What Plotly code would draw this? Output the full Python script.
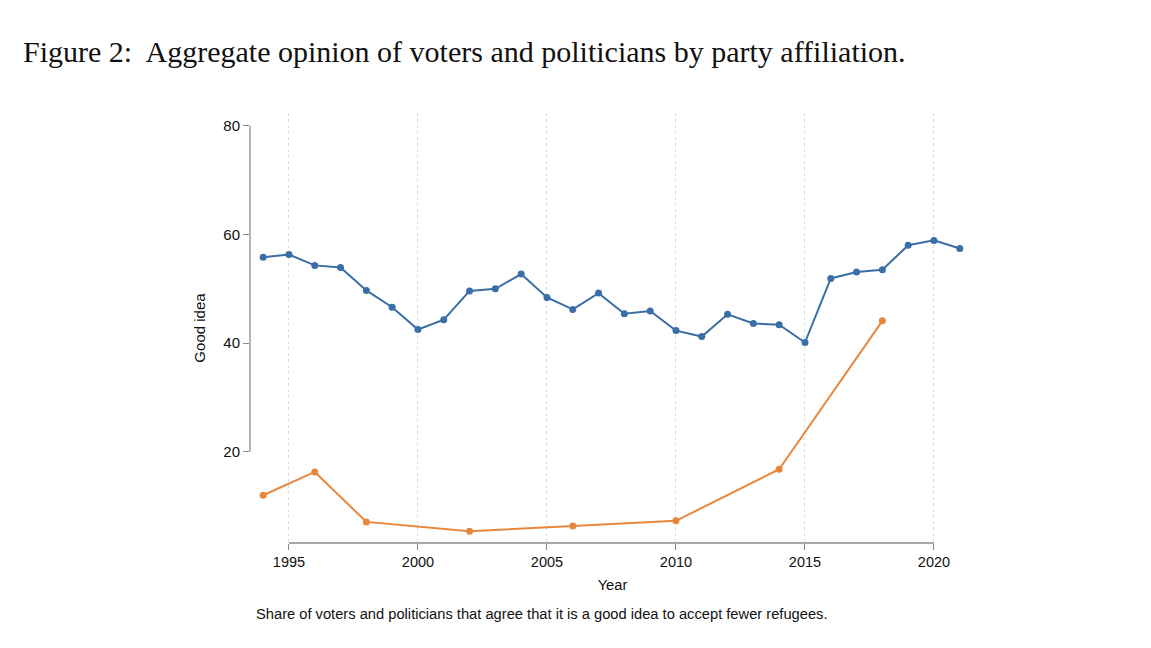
import plotly.graph_objects as go

years_voters = list(range(1994, 2022))
voters = [55.8, 56.3, 54.3, 53.9, 49.7, 46.6, 42.5, 44.3, 49.6, 50.0,
          52.7, 48.4, 46.2, 49.2, 45.4, 45.9, 42.3, 41.2, 45.3, 43.6,
          43.4, 40.1, 51.9, 53.1, 53.5, 58.0, 58.9, 57.4]

years_politicians = [1994, 1996, 1998, 2002, 2006, 2010, 2014, 2018]
politicians = [12.0, 16.3, 7.1, 5.4, 6.35, 7.3, 16.8, 44.1]

x_ticks = [1995, 2000, 2005, 2010, 2015, 2020]
y_ticks = [20, 40, 60, 80]

title_text = "Figure 2:  Aggregate opinion of voters and politicians by party affiliation."
caption_text = "Share of voters and politicians that agree that it is a good idea to accept fewer refugees."

BLUE = "#3a6ea7"
ORANGE = "#e8873c"
AXIS = "#8a8a8a"

fig = go.Figure()
fig.add_trace(go.Scatter(x=years_voters, y=voters, mode="lines+markers", name="Voters",
                         line=dict(color=BLUE, width=2), marker=dict(color=BLUE, size=7)))
fig.add_trace(go.Scatter(x=years_politicians, y=politicians, mode="lines+markers", name="Politicians",
                         line=dict(color=ORANGE, width=2), marker=dict(color=ORANGE, size=7)))

# Stata-style axis lines spanning first to last tick
fig.add_shape(type="line", xref="paper", yref="y", x0=0, x1=0, y0=y_ticks[0], y1=y_ticks[-1],
              line=dict(color=AXIS, width=1.3))
fig.add_shape(type="line", xref="x", yref="paper", x0=x_ticks[0], x1=x_ticks[-1], y0=0, y1=0,
              line=dict(color=AXIS, width=1.3))

font = "Liberation Sans, Arial, sans-serif"
fig.update_layout(
    width=1151, height=648,
    margin=dict(l=242, r=184, t=105, b=113),
    paper_bgcolor="white", plot_bgcolor="white",
    showlegend=False,
    font=dict(family=font, size=14.7, color="#111111"),
    xaxis=dict(range=[1993.49, 2021.59], tickvals=x_ticks, showgrid=True, gridcolor="#d9d9d9",
               griddash="dot", gridwidth=1, zeroline=False, showline=False,
               ticks="outside", ticklen=6, tickcolor=AXIS, tickwidth=1.3,
               tickfont=dict(size=14.5, family=font),
               title=dict(text="Year", font=dict(size=14.7, family=font), standoff=10)),
    yaxis=dict(range=[3.22, 82.34], tickvals=y_ticks, showgrid=False, zeroline=False,
               showline=False, ticks="outside", ticklen=6, tickcolor=AXIS, tickwidth=1.3,
               tickfont=dict(size=15, family=font),
               title=dict(text="Good idea", font=dict(size=15, family=font), standoff=14)),
    annotations=[
        dict(text=title_text, xref="paper", yref="paper", x=-229 / 725, y=1 + 61 / 430,
             xanchor="left", yanchor="middle", showarrow=False,
             font=dict(family="Liberation Serif, DejaVu Serif, serif", size=30, color="#111111")),
        dict(text=caption_text, xref="paper", yref="paper", x=4 / 725, y=-71 / 430,
             xanchor="left", yanchor="middle", showarrow=False,
             font=dict(family=font, size=14.7, color="#111111")),
    ],
)

fig.write_html("out.html")
